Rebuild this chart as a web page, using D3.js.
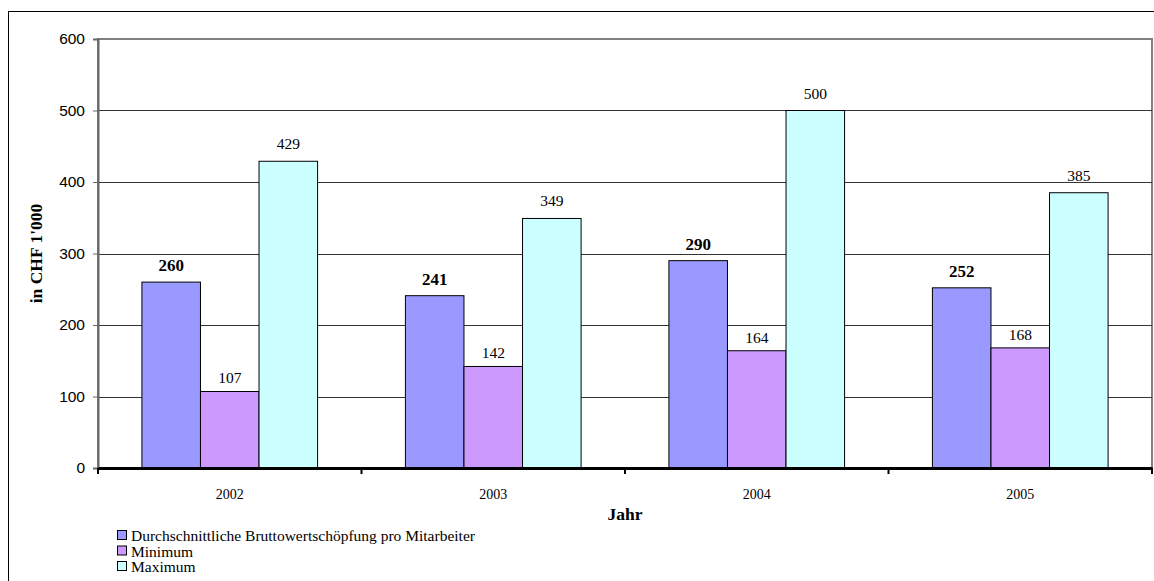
<!DOCTYPE html>
<html>
<head>
<meta charset="utf-8">
<script src="https://cdn.jsdelivr.net/npm/d3@7"></script>
<style>
  html, body { margin: 0; padding: 0; background: #fff; overflow: hidden; }
  svg { display: block; }
</style>
</head>
<body>
<div id="chart"></div>
<script>
const years = ["2002", "2003", "2004", "2005"];
const seriesNames = [
  "Durchschnittliche Bruttowertschöpfung pro Mitarbeiter",
  "Minimum",
  "Maximum"
];
const avgValues = [260, 241, 290, 252];
const minValues = [107, 142, 164, 168];
const maxValues = [429, 349, 500, 385];
const yTicks = [0, 100, 200, 300, 400, 500, 600];
const seriesColors = ["#9999FF", "#CC99FF", "#CCFFFF"];

const width = 1154, height = 581;
const plot = { left: 98, top: 39, right: 1152, bottom: 468 };
const serif = "'Liberation Serif', 'Times New Roman', serif";

const svg = d3.select("#chart").append("svg")
  .attr("width", width)
  .attr("height", height);

// outer chart frame (runs past the window on right/bottom)
svg.append("rect")
  .attr("x", 8.5).attr("y", 11.5)
  .attr("width", 1160).attr("height", 600)
  .attr("fill", "none").attr("stroke", "#000").attr("stroke-width", 1);

const x = d3.scaleBand().domain(years).range([plot.left, plot.right]);
const y = d3.scaleLinear().domain([0, 600]).range([plot.bottom, plot.top]);

// gap width 150% -> 3 bars + 1.5 bar of gap per category
const barW = x.bandwidth() / 4.5;
const inner = d3.scaleBand().domain([0, 1, 2])
  .range([0.75 * barW, 3.75 * barW]);

// plot area border
svg.append("rect")
  .attr("x", plot.left).attr("y", plot.top)
  .attr("width", plot.right - plot.left).attr("height", plot.bottom - plot.top)
  .attr("fill", "none").attr("stroke", "#808080").attr("stroke-width", 2);

// gridlines
svg.append("g").selectAll("line")
  .data(yTicks.filter(d => d > 0 && d < 600))
  .join("line")
  .attr("x1", plot.left).attr("x2", plot.right)
  .attr("y1", d => Math.round(y(d)) + 0.5).attr("y2", d => Math.round(y(d)) + 0.5)
  .attr("stroke", "#333")
  .attr("stroke-width", 1);

// y axis
const yAxis = svg.append("g")
  .attr("transform", `translate(${plot.left},0)`)
  .call(d3.axisLeft(y).tickValues(yTicks).tickSize(5).tickPadding(8));
yAxis.select(".domain").attr("stroke", "#666").attr("stroke-width", 2);
yAxis.selectAll(".tick line").attr("stroke", "#666");
yAxis.selectAll(".tick text")
  .style("font-family", "Arial, 'Liberation Sans', sans-serif")
  .style("font-size", "15.5px").attr("fill", "#000");

// bars
const data = years.map((yr, i) => [avgValues[i], minValues[i], maxValues[i]]);
const groups = svg.append("g").selectAll("g")
  .data(years)
  .join("g")
  .attr("transform", d => `translate(${x(d)},0)`);

groups.selectAll("rect")
  .data((d, i) => data[i].map((v, s) => ({ v, s })))
  .join("rect")
  .attr("x", d => inner(d.s))
  .attr("width", inner.bandwidth())
  .attr("y", d => y(d.v))
  .attr("height", d => y(0) - y(d.v))
  .attr("fill", d => seriesColors[d.s])
  .attr("stroke", "#000").attr("stroke-width", 1);

groups.selectAll("text")
  .data((d, i) => data[i].map((v, s) => ({ v, s })))
  .join("text")
  .attr("x", d => inner(d.s) + inner.bandwidth() / 2)
  .attr("y", d => y(d.v) - (d.s === 0 ? 11 : d.s === 2 ? 12 : 8))
  .attr("text-anchor", "middle")
  .style("font-family", serif)
  .style("font-size", d => d.s === 0 ? "17px" : "15.5px")
  .style("font-weight", d => d.s === 0 ? "bold" : "normal")
  .text(d => d.v);

// x axis
const xAxis = svg.append("g")
  .attr("transform", `translate(0,${plot.bottom})`)
  .call(d3.axisBottom(x).tickSize(0).tickPadding(21));
xAxis.select(".domain").attr("stroke", "#000").attr("stroke-width", 3);
xAxis.selectAll(".tick text")
  .style("font-family", serif)
  .style("font-size", "14px").attr("fill", "#000");
xAxis.selectAll(".boundary")
  .data(years.map(d => x(d)).concat([plot.right]))
  .join("line")
  .attr("x1", d => d).attr("x2", d => d)
  .attr("y1", 0).attr("y2", 6)
  .attr("stroke", "#000").attr("stroke-width", 2);

// axis titles
svg.append("text")
  .attr("x", (plot.left + plot.right) / 2).attr("y", 520)
  .attr("text-anchor", "middle")
  .style("font-family", serif)
  .style("font-size", "17.5px").style("font-weight", "bold")
  .text("Jahr");

svg.append("text")
  .attr("transform", `translate(42,${(plot.top + plot.bottom) / 2}) rotate(-90)`)
  .attr("text-anchor", "middle")
  .style("font-family", serif)
  .style("font-size", "17.5px").style("font-weight", "bold")
  .text("in CHF 1'000");

// legend
const legend = svg.append("g").attr("transform", "translate(117,530)");
const rows = legend.selectAll("g")
  .data(seriesNames)
  .join("g")
  .attr("transform", (d, i) => `translate(0,${i * 15.5})`);
rows.append("rect")
  .attr("x", 0.5).attr("y", 0.5).attr("width", 9).attr("height", 9)
  .attr("fill", (d, i) => seriesColors[i])
  .attr("stroke", "#000");
rows.append("text")
  .attr("x", 14).attr("y", 11)
  .style("font-family", serif)
  .style("font-size", "15.5px")
  .text(d => d);
</script>
</body>
</html>
